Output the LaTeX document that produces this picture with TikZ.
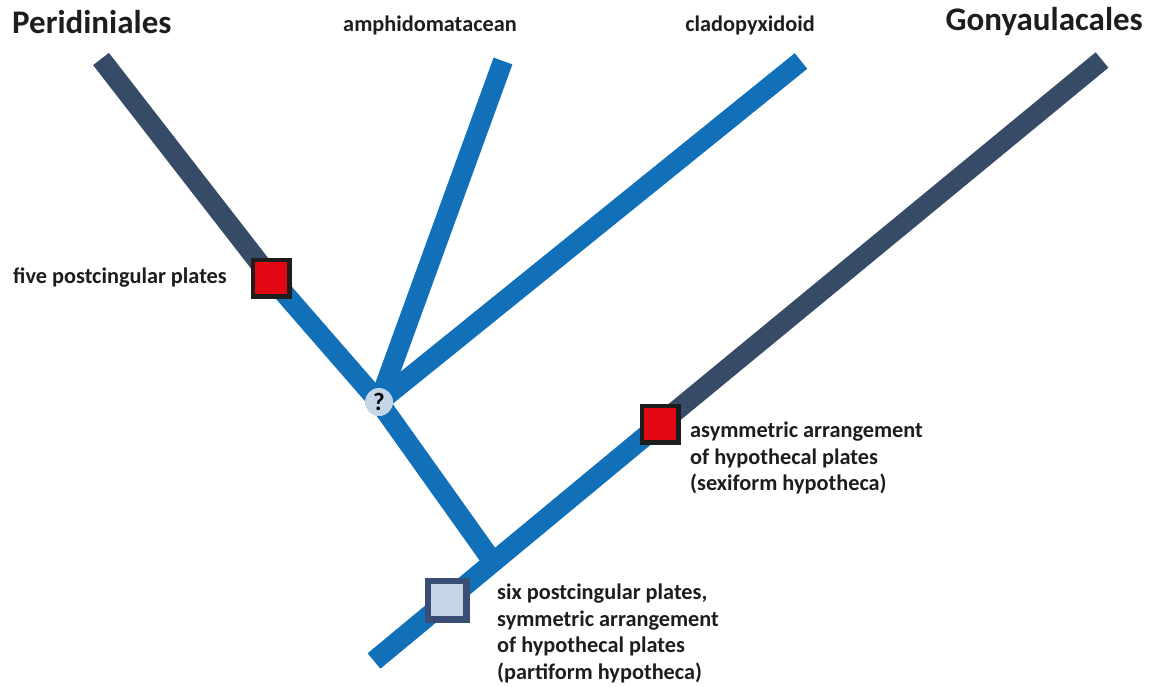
\documentclass[tikz,border=0pt]{standalone}
\usepackage{fontspec}
\setmainfont{Carlito}
\definecolor{darkbr}{HTML}{354B66}
\definecolor{bluebr}{HTML}{1170B8}
\definecolor{lightbl}{HTML}{C6D6E9}
\definecolor{redsq}{HTML}{E30613}
\definecolor{framesq}{HTML}{1D1D1B}
\definecolor{framebl}{HTML}{3A4D75}
\tikzset{
  darkline/.style={draw=darkbr,line width=20pt},
  blueline/.style={draw=bluebr,line width=20pt},
  redbox/.style={draw=framesq,fill=redsq,line width=4.5pt,minimum size=36.5pt,inner sep=0pt,shape=rectangle},
  lightbox/.style={draw=framebl,fill=lightbl,line width=6.5pt,minimum size=38.5pt,inner sep=0pt,shape=rectangle},
  qmark/.style={circle,fill=lightbl,minimum size=28pt,inner sep=0pt,font=\bfseries\fontsize{25}{25}\selectfont},
  title/.style={font=\bfseries\fontsize{33}{33}\selectfont,text=framesq,inner sep=0pt},
  lab/.style={font=\bfseries\fontsize{22.3}{26.8}\selectfont,text=framesq,inner sep=0pt,align=left}
}
\begin{document}
\begin{tikzpicture}[x=1pt,y=-1pt]
\useasboundingbox (0,0) rectangle (1159,687);
\coordinate (peritop) at (101,59);
\coordinate (amphitop) at (503,61);
\coordinate (cladtop) at (801,61);
\coordinate (gonytop) at (1102,60);
\coordinate (trunkbot) at (374,661);
\coordinate (join) at (493,562);
\coordinate (qpos) at (379,402);
\coordinate (s1) at (271,278);
\coordinate (s2) at (660,424);
\coordinate (s3) at (447,600);
% branches
\draw[darkline] (peritop) -- (s1);
\draw[blueline] (s1) -- (qpos) -- (join);
\draw[blueline] (amphitop) -- (qpos);
\draw[blueline] (cladtop) -- (qpos);
\draw[blueline] (trunkbot) -- (s2);
\draw[darkline] (s2) -- (gonytop);
% markers
\node[qmark] (q) at (qpos) {?};
\node[redbox] (sq1) at (s1) {};
\node[redbox] (sq2) at (s2) {};
\node[lightbox] (sq3) at (s3) {};
% labels
\node[title,anchor=west] (peri) at (12,22) {Peridiniales};
\node[title,anchor=east] (gony) at (1143,22) {Gonyaulacales};
\node[lab,anchor=center] (amphi) at (430,25) {amphidomatacean};
\node[lab,anchor=center] (clad) at (750,25) {cladopyxidoid};
\node[lab,anchor=east] (five) at (227,278) {five postcingular plates};
\node[lab,anchor=north west] (asym) at (690,421.5) {asymmetric arrangement\\of hypothecal plates\\(sexiform hypotheca)};
\node[lab,anchor=north west] (six) at (497,583.5) {six postcingular plates,\\symmetric arrangement\\of hypothecal plates\\(partiform hypotheca)};
\end{tikzpicture}
\end{document}
